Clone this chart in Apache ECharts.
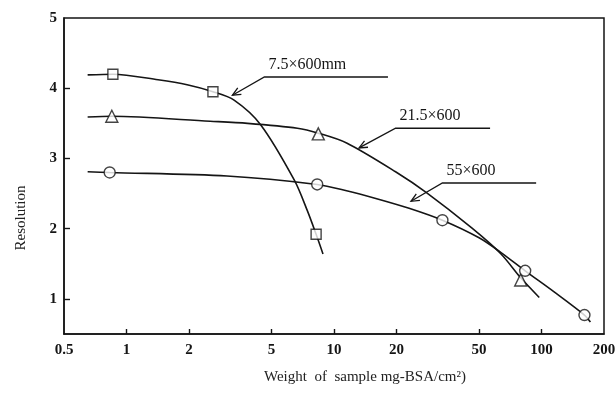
<!DOCTYPE html>
<html>
<head>
<meta charset="utf-8">
<script src="https://cdn.jsdelivr.net/npm/echarts@6/dist/echarts.min.js"></script>
<style>
  html, body { margin: 0; padding: 0; background: #fff; }
  #chart { width: 615px; height: 403px; }
</style>
</head>
<body>
<div id="chart"></div>
<script>
// Axis tick labels
const xTickLabels = [0.5, 1, 2, 5, 10, 20, 50, 100, 200];
const yTickLabels = [1, 2, 3, 4, 5];

// 7.5 x 600 mm column: drawn curve and measured points
const curve75W = [0.65, 0.86, 1.42, 1.96, 2.61, 3.30, 4.43, 6.44, 7.43, 8.2, 8.85];
const curve75R = [4.19, 4.2, 4.12, 4.05, 3.95, 3.83, 3.48, 2.69, 2.26, 1.92, 1.64];
const points75W = [0.86, 2.61, 8.2];
const points75R = [4.2, 3.95, 1.92];

// 21.5 x 600 column
const curve215W = [0.65, 0.85, 2.53, 3.83, 6.66, 8.4, 11.5, 19.8, 28.0, 46.1, 63.8, 79.4, 97.5];
const curve215R = [3.59, 3.6, 3.53, 3.50, 3.43, 3.36, 3.22, 2.81, 2.51, 2.01, 1.64, 1.30, 1.02];
const points215W = [0.85, 8.4, 79.4];
const points215R = [3.6, 3.35, 1.27];

// 55 x 600 column
const curve55W = [0.65, 0.83, 3.05, 8.3, 11.5, 15.9, 23.0, 33.3, 50, 63.8, 83.4, 115, 161, 172];
const curve55R = [2.81, 2.8, 2.75, 2.63, 2.54, 2.43, 2.29, 2.12, 1.87, 1.66, 1.40, 1.10, 0.77, 0.67];
const points55W = [0.83, 8.3, 33.3, 83.4, 161];
const points55R = [2.8, 2.63, 2.12, 1.40, 0.77];

// Leader-line labels: arrow tip, elbow and end of the underline (data units)
const noteTexts = ['7.5\u00d7600mm', '21.5\u00d7600', '55\u00d7600'];
const noteTips = [[3.24, 3.90], [13.2, 3.15], [23.5, 2.39]];
const noteFrom = [[4.62, 4.16], [19.8, 3.43], [33.3, 2.65]];
const noteTo = [[18.2, 4.16], [56.5, 3.43], [94.2, 2.65]];

const lg = Math.log10;
const pairs = (ws, rs) => ws.map((w, i) => [lg(w), rs[i]]);

const INK = '#151515';
const SERIF = '"Liberation Serif", "DejaVu Serif", serif';

const curveStyle = { color: INK, width: 1.6 };
const markerStyle = { color: '#fff', borderColor: INK, borderWidth: 1.4 };

function curve(ws, rs) {
  return {
    type: 'line', data: pairs(ws, rs), smooth: 0.3, symbol: 'none',
    lineStyle: curveStyle, z: 2, silent: true
  };
}
function marks(ws, rs, symbol, size) {
  return {
    type: 'scatter', data: pairs(ws, rs), symbol: symbol, symbolSize: size,
    itemStyle: markerStyle, z: 5, silent: true
  };
}

const chart = echarts.init(document.getElementById('chart'), null, { renderer: 'canvas' });

chart.setOption({
  animation: false,
  backgroundColor: '#fff',
  grid: {
    left: 64, right: 11, top: 18, bottom: 69,
    containLabel: false, outerBoundsMode: 'none',
    show: true, borderColor: INK, borderWidth: 1.5, backgroundColor: 'transparent'
  },
  xAxis: {
    type: 'value', min: lg(0.5), max: lg(200),
    splitLine: { show: false },
    axisLine: { show: true, onZero: false, lineStyle: { color: INK, width: 1.5 } },
    axisTick: {
      show: true, inside: true, length: 5,
      customValues: xTickLabels.slice(1, -1).map(lg),
      lineStyle: { color: INK, width: 1.4 }
    },
    axisLabel: {
      customValues: xTickLabels.map(lg),
      formatter: v => String(+Math.pow(10, v).toPrecision(3)),
      color: INK, fontFamily: SERIF, fontSize: 15, fontWeight: 'bold', margin: 9
    }
  },
  yAxis: {
    type: 'value', min: 0.5, max: 5,
    splitLine: { show: false },
    axisLine: { show: true, onZero: false, lineStyle: { color: INK, width: 1.5 } },
    axisTick: {
      show: true, inside: true, length: 6,
      customValues: yTickLabels.slice(0, -1),
      lineStyle: { color: INK, width: 1.4 }
    },
    axisLabel: {
      customValues: yTickLabels,
      color: INK, fontFamily: SERIF, fontSize: 15, fontWeight: 'bold', margin: 7
    }
  },
  series: [
    curve(curve75W, curve75R),
    curve(curve215W, curve215R),
    curve(curve55W, curve55R),
    marks(points75W, points75R, 'rect', 10),
    marks(points215W, points215R, 'triangle', 12),
    marks(points55W, points55R, 'circle', 11)
  ]
});

// Leader lines, arrowheads and their labels, placed through the grid's coordinate system
const toPx = p => chart.convertToPixel({ gridIndex: 0 }, [lg(p[0]), p[1]]);
const graphics = [];
noteTexts.forEach((text, i) => {
  const tip = toPx(noteTips[i]);
  const from = toPx(noteFrom[i]);
  const to = toPx(noteTo[i]);
  graphics.push({
    type: 'polyline', silent: true,
    shape: { points: [tip, from, to] },
    style: { stroke: INK, lineWidth: 1.3, fill: null }
  });
  const ang = Math.atan2(from[1] - tip[1], from[0] - tip[0]);
  const L = 9, spread = 0.42;
  graphics.push({
    type: 'polyline', silent: true,
    shape: { points: [
      [tip[0] + L * Math.cos(ang + spread), tip[1] + L * Math.sin(ang + spread)],
      tip,
      [tip[0] + L * Math.cos(ang - spread), tip[1] + L * Math.sin(ang - spread)]
    ] },
    style: { stroke: INK, lineWidth: 1.3, fill: null }
  });
  graphics.push({
    type: 'text', silent: true,
    style: {
      text: text, x: from[0] + 4, y: from[1] - 4,
      align: 'left', verticalAlign: 'bottom',
      font: '16px ' + SERIF, fill: INK
    }
  });
});

// Axis titles
graphics.push({
  type: 'text', silent: true, rotation: Math.PI / 2, x: 21, y: 218,
  style: { text: 'Resolution', align: 'center', verticalAlign: 'middle', font: '15px ' + SERIF, fill: '#222' }
});
graphics.push({
  type: 'text', silent: true, x: 365, y: 377,
  style: { text: 'Weight  of  sample mg-BSA/cm\u00b2)', align: 'center', verticalAlign: 'middle', font: '15px ' + SERIF, fill: '#222' }
});

chart.setOption({ graphic: graphics });
</script>
</body>
</html>
